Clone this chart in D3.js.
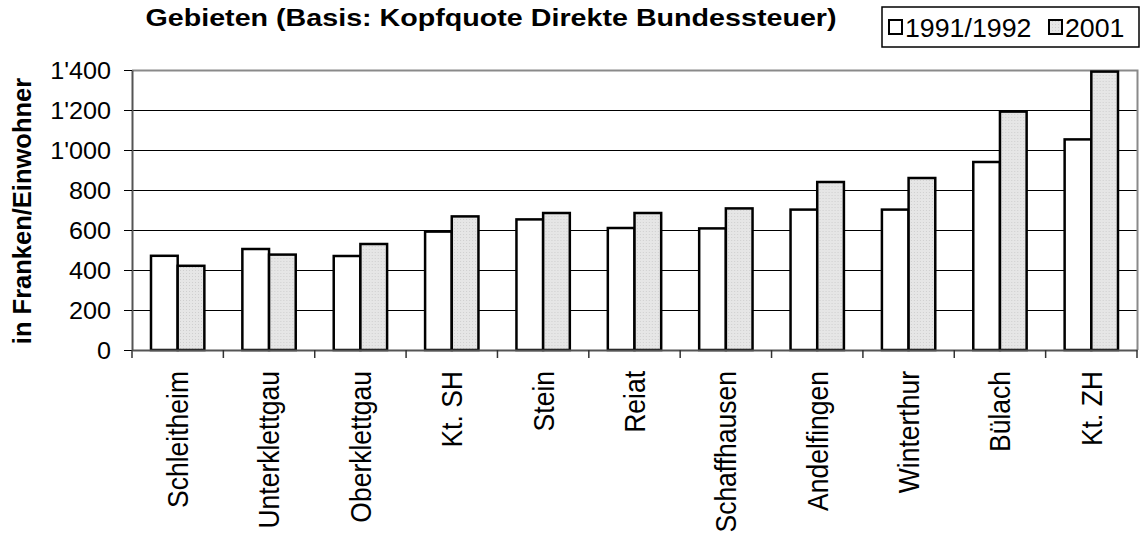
<!DOCTYPE html>
<html>
<head>
<meta charset="utf-8">
<script src="https://cdn.jsdelivr.net/npm/d3@7"></script>
<style>
  body { margin: 0; background: #fff; }
  text { font-family: "Liberation Sans", Arial, sans-serif; fill: #000; }
</style>
</head>
<body>
<div id="chart"></div>
<script>
// data
var regions = ['Schleitheim','Unterklettgau','Oberklettgau','Kt. SH','Stein','Reiat',
               'Schaffhausen','Andelfingen','Winterthur','Bülach','Kt. ZH'];
var values1991 = [471, 505, 470, 592, 653, 610, 608, 702, 702, 940, 1053];
var values2001 = [421, 477, 530, 668, 685, 685, 708, 840, 860, 1192, 1392];
var seriesNames = ['1991/1992', '2001'];
var yTicks = [0, 200, 400, 600, 800, 1000, 1200, 1400];

var width = 1140, height = 536;
var mLeft = 132, mRight = 1137, mTop = 70, mBottom = 350;

var svg = d3.select('#chart').append('svg')
  .attr('width', width)
  .attr('height', height);

// light dotted fill like the original 2001 bars
var pat = svg.append('defs').append('pattern')
  .attr('id', 'dots').attr('width', 3).attr('height', 3)
  .attr('patternUnits', 'userSpaceOnUse');
pat.append('rect').attr('width', 3).attr('height', 3).attr('fill', '#e6e6e6');
pat.append('rect').attr('width', 1).attr('height', 1).attr('fill', '#cfcfcf');

var x = d3.scaleBand().domain(regions).range([mLeft, mRight]);
var y = d3.scaleLinear().domain([0, 1400]).range([mBottom, mTop]);

var fmt = function(d) { return d >= 1000 ? Math.floor(d/1000) + "'" + d3.format('03d')(d % 1000) : '' + d; };

// gridlines
svg.append('g').selectAll('line')
  .data(yTicks.slice(1, -1))
  .enter().append('line')
  .attr('x1', mLeft).attr('x2', mRight)
  .attr('y1', function(d){ return y(d) + 0.5; })
  .attr('y2', function(d){ return y(d) + 0.5; })
  .attr('stroke', '#000').attr('stroke-width', 1);

// gray frame top + right
svg.append('path')
  .attr('d', 'M' + mLeft + ',' + (mTop + 0.5) + 'H' + (mRight + 0.5) + 'V' + mBottom)
  .attr('fill', 'none').attr('stroke', '#8a8a8a').attr('stroke-width', 2);

var bandPad = 19;
var barW = (x.bandwidth() - 2*bandPad) / 2;

var groups = svg.append('g').selectAll('g')
  .data(regions)
  .enter().append('g')
  .attr('transform', function(d){ return 'translate(' + x(d) + ',0)'; });

groups.append('rect')
  .attr('x', bandPad)
  .attr('y', function(d, i){ return y(values1991[i]); })
  .attr('width', barW)
  .attr('height', function(d, i){ return mBottom - y(values1991[i]); })
  .attr('fill', '#fff').attr('stroke', '#000').attr('stroke-width', 2.5);

groups.append('rect')
  .attr('x', bandPad + barW)
  .attr('y', function(d, i){ return y(values2001[i]); })
  .attr('width', barW)
  .attr('height', function(d, i){ return mBottom - y(values2001[i]); })
  .attr('fill', 'url(#dots)').attr('stroke', '#000').attr('stroke-width', 2.5);

// y axis
var yAxis = svg.append('g')
  .attr('transform', 'translate(' + mLeft + ',0)')
  .call(d3.axisLeft(y).tickValues(yTicks).tickFormat('').tickSize(8).tickSizeOuter(0));
yAxis.select('.domain').attr('stroke', '#555').attr('stroke-width', 2);
yAxis.selectAll('.tick line').attr('stroke', '#000');

var tickFont = 24;
svg.append('g').selectAll('g')
  .data(yTicks)
  .enter().append('g')
  .attr('transform', function(d){ return 'translate(111,' + (y(d) + 0.358*tickFont) + ') scale(1.05,1)'; })
  .append('text')
  .attr('text-anchor', 'end')
  .attr('font-size', tickFont)
  .text(fmt);

// x axis
var xAxis = svg.append('g')
  .attr('transform', 'translate(0,' + mBottom + ')')
  .call(d3.axisBottom(x).tickSize(0).tickFormat('').tickSizeOuter(0));
xAxis.select('.domain').attr('stroke', '#555').attr('stroke-width', 2);
svg.append('g').selectAll('line')
  .data(regions.concat(['end']))
  .enter().append('line')
  .attr('x1', function(d, i){ return i < regions.length ? x(d) : mRight; })
  .attr('x2', function(d, i){ return i < regions.length ? x(d) : mRight; })
  .attr('y1', mBottom).attr('y2', mBottom + 8)
  .attr('stroke', '#333').attr('stroke-width', 1.5);

var xFont = 26.5;
svg.append('g').selectAll('g')
  .data(regions)
  .enter().append('g')
  .attr('transform', function(d){
    return 'translate(' + (x(d) + x.bandwidth()/2 + 0.358*xFont*1.1) + ',371) scale(1.1,1) rotate(-90)';
  })
  .append('text')
  .attr('text-anchor', 'end')
  .attr('font-size', xFont)
  .text(function(d){ return d; });

// y label
svg.append('text')
  .attr('transform', 'translate(31,' + ((mTop + mBottom)/2 + 1) + ') rotate(-90)')
  .attr('text-anchor', 'middle')
  .attr('font-size', 25.5).attr('font-weight', 'bold')
  .text('in Franken/Einwohner');

// title
svg.append('g')
  .attr('transform', 'translate(491,26) scale(1.17,1)')
  .append('text')
  .attr('text-anchor', 'middle')
  .attr('font-size', 24.5).attr('font-weight', 'bold')
  .text('Gebieten (Basis: Kopfquote Direkte Bundessteuer)');

// legend
var legend = svg.append('g');
legend.append('rect')
  .attr('x', 882).attr('y', 7).attr('width', 257).attr('height', 40)
  .attr('fill', '#fff').attr('stroke', '#000').attr('stroke-width', 1.5);
var fills = ['#fff', 'url(#dots)'];
var lx = [889, 1049];
var items = legend.selectAll('g.item')
  .data(seriesNames)
  .enter().append('g')
  .attr('transform', function(d, i){ return 'translate(' + lx[i] + ',0)'; });
items.append('rect')
  .attr('x', 0).attr('y', 20).attr('width', 13).attr('height', 14)
  .attr('fill', function(d, i){ return fills[i]; })
  .attr('stroke', '#000').attr('stroke-width', 2);
items.append('g')
  .attr('transform', 'translate(16,37) scale(1.07,1)')
  .append('text')
  .attr('font-size', 25)
  .text(function(d){ return d; });
</script>
</body>
</html>
